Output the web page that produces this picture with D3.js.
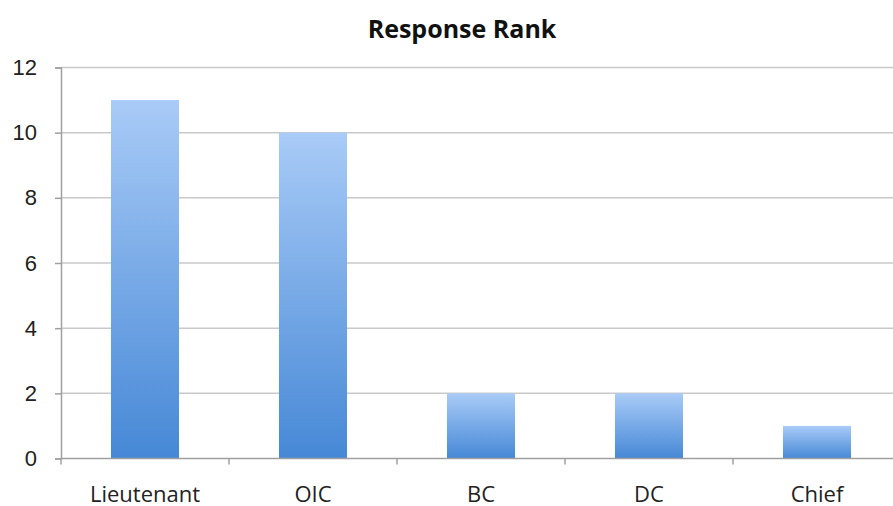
<!DOCTYPE html>
<html>
<head>
<meta charset="utf-8">
<script src="https://cdn.jsdelivr.net/npm/d3@7"></script>
<style>
  body { margin: 0; background: #fff; }
  svg { display: block; font-family: "Open Sans", Lato, sans-serif; }
</style>
</head>
<body>
<svg id="chart"></svg>
<script>
// chart data
const categories = ["Lieutenant", "OIC", "BC", "DC", "Chief"];
const counts = [11, 10, 2, 2, 1];
const yTicks = [0, 2, 4, 6, 8, 10, 12];
const chartTitle = "Response Rank";

const width = 893;
const height = 506;
const margin = { top: 67.5, right: -8, bottom: 47.5, left: 61 };

const gridColor = "#c9c9c9";
const axisColor = "#a0a0a0";
const textColor = "#222";

const svg = d3.select("#chart")
  .attr("width", width)
  .attr("height", height);

// gradient for the bars
const grad = svg.append("defs").append("linearGradient")
  .attr("id", "barGrad")
  .attr("x1", 0).attr("y1", 0).attr("x2", 0).attr("y2", 1);
grad.append("stop").attr("offset", "0%").attr("stop-color", "#a9cbf7");
grad.append("stop").attr("offset", "100%").attr("stop-color", "#4688d6");

const x = d3.scaleBand()
  .domain(categories)
  .range([margin.left, width - margin.right])
  .paddingInner(0.595)
  .paddingOuter(0.2975);

const y = d3.scaleLinear()
  .domain([0, 12])
  .range([height - margin.bottom, margin.top]);

// gridlines
svg.append("g")
  .selectAll("line")
  .data(yTicks.filter(d => d > 0))
  .enter()
  .append("line")
  .attr("x1", margin.left)
  .attr("x2", width)
  .attr("y1", d => y(d))
  .attr("y2", d => y(d))
  .attr("stroke", gridColor)
  .attr("stroke-width", 1.5);

// bars
svg.selectAll(".bar")
  .data(categories)
  .enter()
  .append("rect")
  .attr("class", "bar")
  .attr("x", (d) => x(d))
  .attr("y", (d, i) => y(counts[i]))
  .attr("width", x.bandwidth())
  .attr("height", (d, i) => y(0) - y(counts[i]))
  .attr("fill", "url(#barGrad)");

// y axis
const yAxis = svg.append("g")
  .attr("transform", `translate(${margin.left},0)`)
  .call(d3.axisLeft(y).tickValues(yTicks).tickSize(6).tickPadding(18));
yAxis.selectAll("path").attr("stroke", axisColor).attr("stroke-width", 1.5);
yAxis.selectAll("line").attr("stroke", axisColor).attr("stroke-width", 1.5);
yAxis.selectAll("text")
  .attr("fill", textColor)
  .style("font-size", "22px");

// x axis with ticks between categories
const step = x.step();
const xBase = svg.append("g")
  .attr("transform", `translate(0,${y(0)})`);
xBase.append("line")
  .attr("x1", margin.left)
  .attr("x2", width)
  .attr("stroke", axisColor)
  .attr("stroke-width", 1.5);
xBase.selectAll(".xtick")
  .data(d3.range(categories.length))
  .enter()
  .append("line")
  .attr("class", "xtick")
  .attr("x1", i => margin.left + step * i)
  .attr("x2", i => margin.left + step * i)
  .attr("y1", 0)
  .attr("y2", 6)
  .attr("stroke", axisColor)
  .attr("stroke-width", 1.5);
xBase.selectAll(".xlabel")
  .data(categories)
  .enter()
  .append("text")
  .attr("class", "xlabel")
  .attr("x", d => x(d) + x.bandwidth() / 2)
  .attr("y", 43)
  .attr("text-anchor", "middle")
  .attr("fill", textColor)
  .style("font-size", "22px")
  .text(d => d);

// title
svg.append("text")
  .attr("x", 462)
  .attr("y", 38)
  .attr("text-anchor", "middle")
  .attr("fill", "#111")
  .style("font-size", "25px")
  .style("font-weight", "bold")
  .text(chartTitle);
</script>
</body>
</html>
